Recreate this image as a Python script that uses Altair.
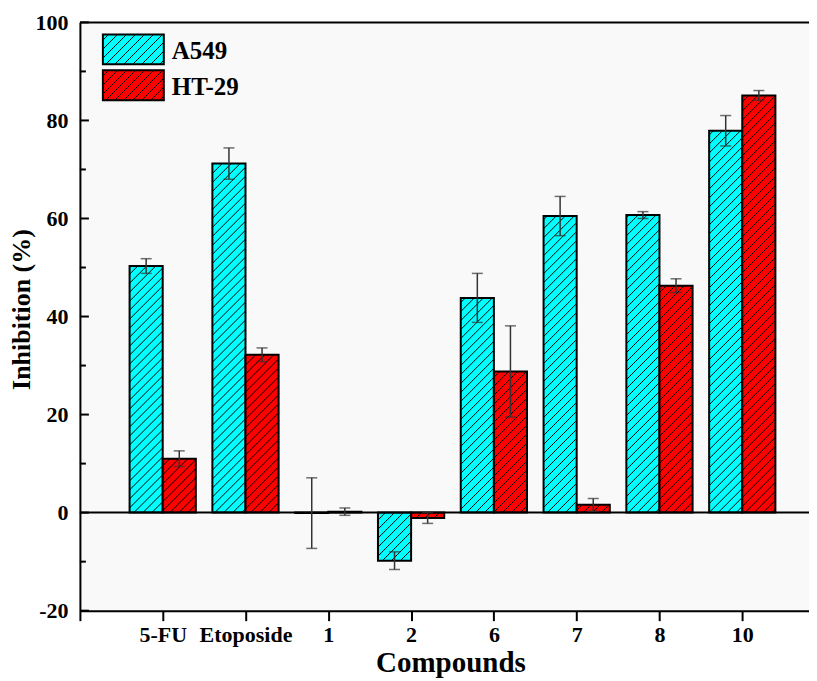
import json
import altair as alt
import numpy as np
import pandas as pd

# ---------------- data ----------------
categories = ["5-FU", "Etoposide", "1", "2", "6", "7", "8", "10"]
series_names = ["A549", "HT-29"]
a549_mean = [50.3, 71.2, -0.1, -9.8, 43.8, 60.5, 60.7, 77.9]
a549_err = [1.5, 3.2, 7.2, 1.8, 5.0, 4.0, 0.7, 3.1]
ht29_mean = [11.0, 32.2, 0.2, -1.1, 28.8, 1.6, 46.3, 85.1]
ht29_err = [1.6, 1.4, 0.75, 1.1, 9.3, 1.3, 1.4, 1.0]
series_colors = ["#00FFFF", "#FF0000"]
y_major = [-20, 0, 20, 40, 60, 80, 100]
y_minor = [-10, 10, 30, 50, 70, 90]

# ---------------- layout ----------------
FONT = "Liberation Serif"
W, H = 730, 589
X_MAX = 8.806
Y_MIN, Y_MAX = -20, 100
BAR_W = 0.4
HATCH = 9.0
sx = W / X_MAX
sy = H / (Y_MAX - Y_MIN)

# legend layout (pixels inside the plot area)
LEG_X0, LEG_X1 = 23, 84
LEG_TOP, LEG_H, LEG_STEP = 12, 30, 36
LEG_TEXT_X, LEG_BASE = 92, 25


def px_to_x(px):
    return px / sx


def py_to_y(py):
    return Y_MAX - py / sy


def hatch(x0, x1, y0, y1):
    X0, X1 = x0 * sx, x1 * sx
    Ya, Yb = sorted((y0 * sy, y1 * sy))
    out = []
    k0 = int(np.floor((Ya - X1) / HATCH))
    k1 = int(np.ceil((Yb - X0) / HATCH))
    for k in range(k0, k1 + 1):
        c = k * HATCH
        xs = max(X0, Ya - c)
        xe = min(X1, Yb - c)
        if xe - xs > 0.3:
            out.append(dict(hx=xs / sx, hy=(xs + c) / sy, hx2=xe / sx, hy2=(xe + c) / sy))
    return out


rows = []
hatch_rows = []
for i, cat in enumerate(categories):
    pos = i + 1
    for s, means, errs, x0 in (
        (series_names[0], a549_mean, a549_err, pos - BAR_W),
        (series_names[1], ht29_mean, ht29_err, pos),
    ):
        m, e = means[i], errs[i]
        x1 = x0 + BAR_W
        rows.append(dict(cat=cat, series=s, mean=m, base=0.0, x0=x0, x1=x1,
                         xc=(x0 + x1) / 2, lo=m - e, hi=m + e))
        hatch_rows.extend(hatch(x0, x1, 0, m))

leg_rows = []
for j, s in enumerate(series_names):
    top = LEG_TOP + j * LEG_STEP
    lx0, lx1 = px_to_x(LEG_X0), px_to_x(LEG_X1)
    ly_top, ly_bot = py_to_y(top), py_to_y(top + LEG_H)
    leg_rows.append(dict(series=s, x0=lx0, x1=lx1, mean=ly_top, base=ly_bot,
                         tx=px_to_x(LEG_TEXT_X), ty=py_to_y(top + LEG_BASE)))
    hatch_rows.extend(hatch(lx0, lx1, ly_bot, ly_top))

df = pd.DataFrame(rows)
ldf = pd.DataFrame(leg_rows)
hdf = pd.DataFrame(hatch_rows)

label_arr = json.dumps([""] + categories)

x_scale = alt.Scale(domain=[0, X_MAX], nice=False, zero=False)
y_scale = alt.Scale(domain=[Y_MIN, Y_MAX], nice=False, zero=False)
color_scale = alt.Scale(domain=series_names, range=series_colors)

x_axis = alt.Axis(
    values=list(range(0, 9)), labelExpr=f"{label_arr}[datum.value]",
    tickSize=10, tickWidth=2, tickColor="black",
    domainColor="black", domainWidth=2, grid=False,
    labelFont=FONT, labelFontSize=22, labelFontWeight="bold", labelColor="black",
    labelPadding=4, labelOverlap=False, labelFlush=False,
    title="Compounds", titleFont=FONT, titleFontSize=29, titleFontWeight="bold",
    titleColor="black", titleX=371, titlePadding=3,
)
y_axis = alt.Axis(
    values=y_major, labelExpr="datum.value + ''",
    tickSize=0, domainColor="black", domainWidth=2, grid=False,
    labelFont=FONT, labelFontSize=22, labelFontWeight="bold", labelColor="black",
    labelPadding=12, labelOverlap=False, labelFlush=False,
    title="Inhibition (%)", titleFont=FONT, titleFontSize=26, titleFontWeight="bold",
    titleColor="black", titlePadding=0, titleY=287,
)

bars = alt.Chart(df).mark_rect(stroke="black", strokeWidth=2).encode(
    x=alt.X("x0:Q", scale=x_scale, axis=x_axis),
    x2="x1",
    y=alt.Y("mean:Q", scale=y_scale, axis=y_axis),
    y2="base",
    color=alt.Color("series:N", scale=color_scale, legend=None),
)

legend_boxes = alt.Chart(ldf).mark_rect(stroke="black", strokeWidth=2).encode(
    x="x0:Q", x2="x1", y="mean:Q", y2="base",
    color=alt.Color("series:N", scale=color_scale, legend=None),
)
legend_text = alt.Chart(ldf).mark_text(
    align="left", baseline="alphabetic", font=FONT, fontSize=25,
    fontWeight="bold", color="black",
).encode(x="tx:Q", y="ty:Q", text="series:N")

hatch_layer = alt.Chart(hdf).mark_rule(color="black", strokeWidth=1).encode(
    x="hx:Q", x2="hx2", y="hy:Q", y2="hy2",
)

err_rule = alt.Chart(df).mark_rule(color="#333333", strokeWidth=1.5).encode(
    x="xc:Q", y="lo:Q", y2="hi"
)
cap_lo = alt.Chart(df).mark_tick(color="#333333", orient="horizontal", size=11, thickness=1.5).encode(
    x="xc:Q", y="lo:Q"
)
cap_hi = alt.Chart(df).mark_tick(color="#333333", orient="horizontal", size=11, thickness=1.5).encode(
    x="xc:Q", y="hi:Q"
)

zero_line = alt.Chart(pd.DataFrame({"z": [0]})).mark_rule(color="black", strokeWidth=2).encode(
    y="z:Q", x=alt.value(0), x2=alt.value(W)
)
top_line = alt.Chart(pd.DataFrame({"t": [Y_MAX]})).mark_rule(color="black", strokeWidth=2).encode(
    y="t:Q", x=alt.value(0), x2=alt.value(W)
)
major_ticks = alt.Chart(pd.DataFrame({"v": y_major})).mark_rule(color="black", strokeWidth=2).encode(
    y="v:Q", x=alt.value(0), x2=alt.value(9)
)
minor_ticks = alt.Chart(pd.DataFrame({"v": y_minor})).mark_rule(color="black", strokeWidth=2).encode(
    y="v:Q", x=alt.value(0), x2=alt.value(6)
)

chart = alt.layer(
    bars, legend_boxes, hatch_layer, legend_text, zero_line, err_rule, cap_lo, cap_hi,
    major_ticks, minor_ticks, top_line
).properties(
    width=W, height=H,
    autosize=alt.AutoSizeParams(type="none"),
    padding={"left": 72, "top": 14, "right": 0, "bottom": 70},
    background="white",
).configure_view(stroke=None, fill="#f9f9f9")

chart.save("out.html", embed_options={"renderer": "svg", "actions": False})
